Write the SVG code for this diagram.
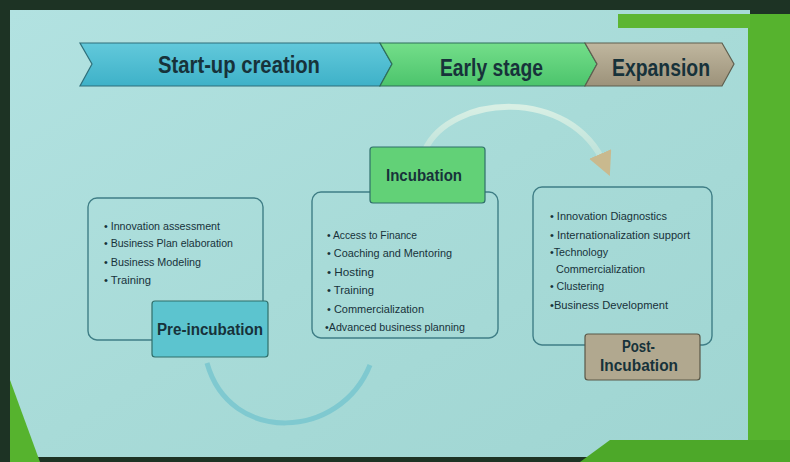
<svg xmlns="http://www.w3.org/2000/svg" width="790" height="462" viewBox="0 0 790 462">
<defs>
<linearGradient id="bg" x1="0" y1="0" x2="1" y2="1">
<stop offset="0" stop-color="#b2e2e1"/>
<stop offset="0.5" stop-color="#a8dbd8"/>
<stop offset="1" stop-color="#9fd5d2"/>
</linearGradient>
<linearGradient id="gBlue" x1="0" y1="0" x2="0" y2="1">
<stop offset="0" stop-color="#62c9db"/>
<stop offset="1" stop-color="#3eb1c8"/>
</linearGradient>
<linearGradient id="gGreen" x1="0" y1="0" x2="0" y2="1">
<stop offset="0" stop-color="#74de8a"/>
<stop offset="1" stop-color="#4cc46c"/>
</linearGradient>
<linearGradient id="gTan" x1="0" y1="0" x2="0" y2="1">
<stop offset="0" stop-color="#c0b79f"/>
<stop offset="1" stop-color="#9c927a"/>
</linearGradient>
<linearGradient id="arcG" x1="0" y1="0" x2="0" y2="1">
<stop offset="0" stop-color="#d8efe4"/>
<stop offset="1" stop-color="#b9e0d8"/>
</linearGradient>
<marker id="ah" viewBox="0 0 10 10" refX="5" refY="5" markerWidth="4" markerHeight="4" orient="auto">
<path d="M0,0 L10,5 L0,10 Z" fill="#c9b98e"/>
</marker>
<style>
.frame{fill:none;stroke:#3f7e86;stroke-width:1.4}
.lab{stroke:#2f6f6a;stroke-width:1.2}
.t{font-family:"Liberation Sans","Open Sans",sans-serif;fill:#17323a}
.hd{font-size:23px;font-weight:bold}
.lb{font-size:16px;font-weight:bold}
.li{font-size:10px}
.lm{font-size:11px}
</style>
</defs>
<rect x="0" y="0" width="790" height="462" fill="#1d3324"/>
<rect x="10" y="10" width="740" height="447" fill="url(#bg)"/>
<rect x="748" y="14" width="42" height="448" fill="#56b32e"/>
<rect x="618" y="14" width="132" height="14" fill="#5db633"/>
<polygon points="10,380 40,462 10,462" fill="#56b32e"/>
<polygon points="580,462 610,440 790,440 790,462" fill="#4da829"/>
<g id="banner">
<polygon points="80,43 380,43 392,64 380,86 80,86 92,64" fill="url(#gBlue)" stroke="#2f6f7a" stroke-width="1.2"/>
<polygon points="380,43 585,43 597,64 585,86 380,86 392,64" fill="url(#gGreen)" stroke="#2f6f5a" stroke-width="1.2"/>
<polygon points="585,43 722,43 734,64 722,86 585,86 597,64" fill="url(#gTan)" stroke="#5f5f4f" stroke-width="1.2"/>
<text class="t hd" x="158" y="73" textLength="162" lengthAdjust="spacingAndGlyphs">Start-up creation</text>
<text class="t hd" x="440" y="76" textLength="103" lengthAdjust="spacingAndGlyphs">Early stage</text>
<text class="t hd" x="612" y="76" textLength="98" lengthAdjust="spacingAndGlyphs">Expansion</text>
</g>
<g id="connectors">
<path d="M425,150 C450,95 570,85 605,165" fill="none" stroke="url(#arcG)" stroke-width="6" marker-end="url(#ah)"/>
<path d="M207,363 C230,445 340,440 370,365" fill="none" stroke="#7fc9d0" stroke-width="5"/>
</g>
<g id="pre-incubation">
<rect class="frame" x="88" y="198" width="175" height="142" rx="9"/>
<text class="t li" x="104" y="230" textLength="116" lengthAdjust="spacingAndGlyphs">• Innovation assessment</text>
<text class="t li" x="104" y="247" textLength="129" lengthAdjust="spacingAndGlyphs">• Business Plan elaboration</text>
<text class="t li" x="104" y="266" textLength="97" lengthAdjust="spacingAndGlyphs">• Business Modeling</text>
<text class="t li" x="104" y="284" textLength="47" lengthAdjust="spacingAndGlyphs">• Training</text>
<rect class="lab" x="152" y="301" width="116" height="56" rx="3" fill="#5cc4cf"/>
<text class="t lb" x="157" y="335" textLength="106" lengthAdjust="spacingAndGlyphs">Pre-incubation</text>
</g>
<g id="incubation">
<rect class="frame" x="312" y="192" width="186" height="146" rx="9"/>
<text class="t lm" x="327" y="239" textLength="90" lengthAdjust="spacingAndGlyphs">• Access to Finance</text>
<text class="t lm" x="327" y="257" textLength="125" lengthAdjust="spacingAndGlyphs">• Coaching and Mentoring</text>
<text class="t lm" x="327" y="276" textLength="47" lengthAdjust="spacingAndGlyphs">• Hosting</text>
<text class="t lm" x="327" y="294" textLength="47" lengthAdjust="spacingAndGlyphs">• Training</text>
<text class="t lm" x="327" y="313" textLength="97" lengthAdjust="spacingAndGlyphs">• Commercialization</text>
<text class="t lm" x="325" y="331" textLength="140" lengthAdjust="spacingAndGlyphs">•Advanced business planning</text>
<rect class="lab" x="370" y="147" width="115" height="56" rx="3" fill="#62d177"/>
<text class="t lb" x="386" y="181" textLength="76" lengthAdjust="spacingAndGlyphs">Incubation</text>
</g>
<g id="post-incubation">
<rect class="frame" x="533" y="187" width="179" height="158" rx="9"/>
<text class="t li" x="550" y="220" textLength="117" lengthAdjust="spacingAndGlyphs">• Innovation Diagnostics</text>
<text class="t li" x="550" y="239" textLength="140" lengthAdjust="spacingAndGlyphs">• Internationalization support</text>
<text class="t li" x="550" y="256" textLength="58" lengthAdjust="spacingAndGlyphs">•Technology</text>
<text class="t li" x="556" y="273" textLength="89" lengthAdjust="spacingAndGlyphs">Commercialization</text>
<text class="t li" x="550" y="290" textLength="54" lengthAdjust="spacingAndGlyphs">• Clustering</text>
<text class="t li" x="550" y="309" textLength="118" lengthAdjust="spacingAndGlyphs">•Business Development</text>
<rect x="585" y="334" width="115" height="46" rx="3" fill="#b1a88f" stroke="#5a5848" stroke-width="1.2"/>
<text class="t lb" x="622" y="352" textLength="33" lengthAdjust="spacingAndGlyphs">Post-</text>
<text class="t lb" x="600" y="371" textLength="78" lengthAdjust="spacingAndGlyphs">Incubation</text>
</g>
</svg>
